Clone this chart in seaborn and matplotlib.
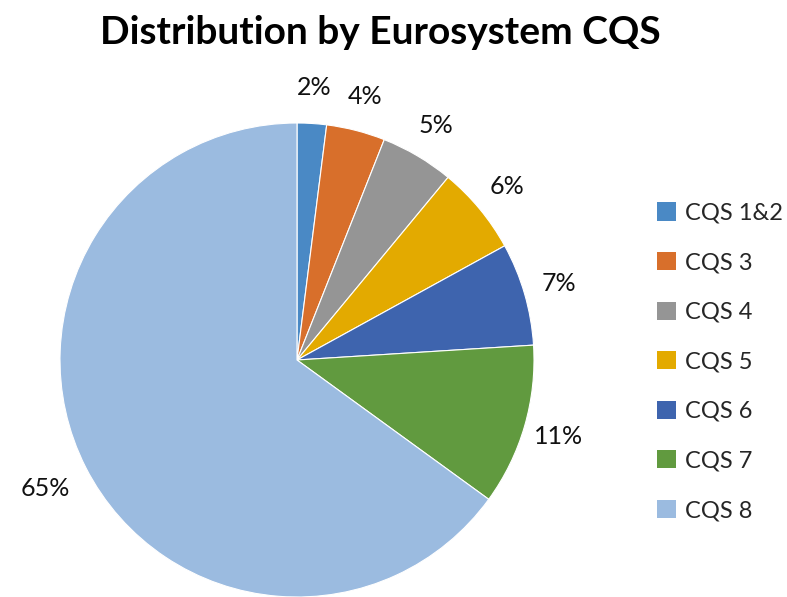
import numpy as np
import matplotlib
matplotlib.use("Agg")
import matplotlib.pyplot as plt
from matplotlib.patches import Patch
import seaborn as sns

# data
categories = ["CQS 1&2", "CQS 3", "CQS 4", "CQS 5", "CQS 6", "CQS 7", "CQS 8"]
shares = [2, 4, 5, 6, 7, 11, 65]
colours = ["#4A89C5", "#D86F2B", "#959595", "#E3AA00", "#3E64AE", "#619A3F", "#9BBBE0"]

sns.set_theme(style="white")
plt.rcParams['font.family'] = ['Lato', 'DejaVu Sans']
pal = sns.color_palette(colours)

fig = plt.figure(figsize=(7.87, 5.97), dpi=100)
# pie centre at (297, 360) px, radius 237 px
W, H = 787, 597
r = 237
ax = fig.add_axes([(297 - r) / W, (H - 360 - r) / H, 2 * r / W, 2 * r / H])

wedges, texts, autotexts = ax.pie(
    shares, colors=pal, startangle=90, counterclock=False,
    autopct=lambda p: f"{p:.0f}%", pctdistance=1.15,
    wedgeprops=dict(edgecolor="white", linewidth=0.8),
    textprops=dict(fontsize=18, color="#111111"))
ax.set_xlim(-1, 1)
ax.set_ylim(-1, 1)
ax.set_aspect("equal")
for t in autotexts:
    t.set_clip_on(False)

# Excel put the big slice's label out to the left
ang = np.deg2rad(207)
autotexts[-1].set_position((1.19 * np.cos(ang), 1.19 * np.sin(ang)))

fig.text(380 / W, 1 - 33 / H, "Distribution by Eurosystem CQS",
         ha="center", va="center", fontsize=28, fontweight="bold", color="#000000")

handles = [Patch(facecolor=c, edgecolor="none") for c in pal]
fig.legend(handles, categories, loc="upper left",
           bbox_to_anchor=(648 / W, 1 - 193 / H), frameon=False,
           fontsize=17, handlelength=0.8, handleheight=0.8,
           handletextpad=0.35, labelspacing=1.2, borderaxespad=0)

fig.savefig("out.png", dpi=100, facecolor="white")
